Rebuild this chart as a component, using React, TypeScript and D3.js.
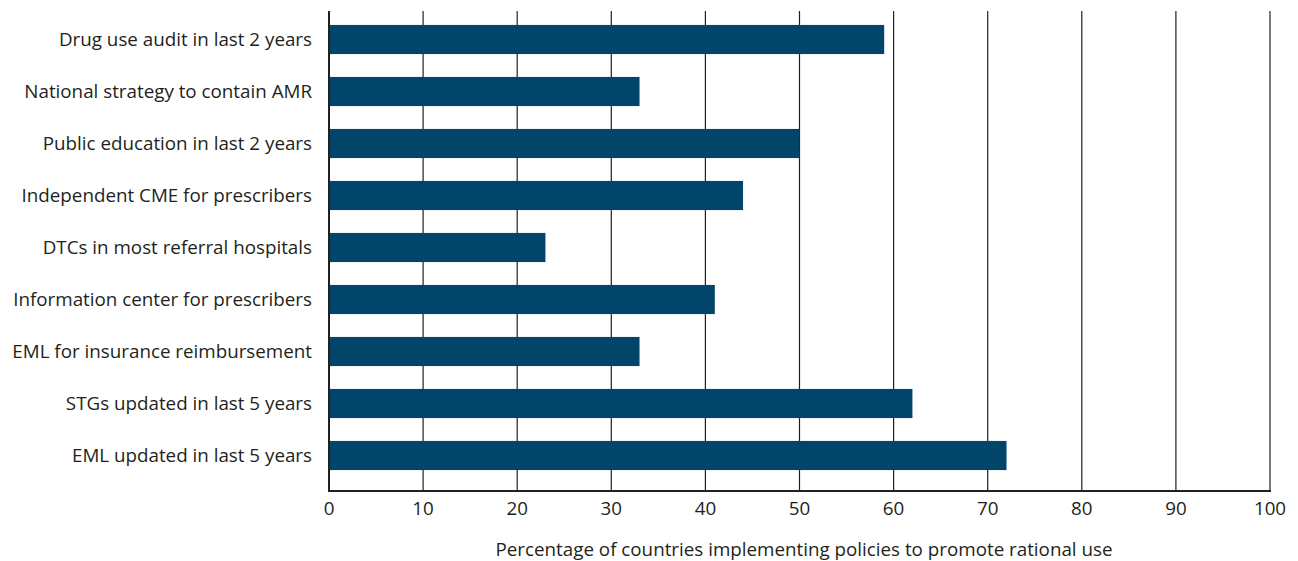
import React from "react";
import * as d3 from "d3";

const categories = [
  "Drug use audit in last 2 years",
  "National strategy to contain AMR",
  "Public education in last 2 years",
  "Independent CME for prescribers",
  "DTCs in most referral hospitals",
  "Information center for prescribers",
  "EML for insurance reimbursement",
  "STGs updated in last 5 years",
  "EML updated in last 5 years",
];
const values = [59, 33, 50, 44, 23, 41, 33, 62, 72];
const xTicks = [0, 10, 20, 30, 40, 50, 60, 70, 80, 90, 100];
const xTitle = "Percentage of countries implementing policies to promote rational use";

export default function App() {
  const W = 1298, H = 561;
  const left = 329, right = 1270, top = 11, bottom = 491;
  const x = d3.scaleLinear().domain([0, 100]).range([left, right]);
  const y = d3.scaleBand<string>().domain(categories).range([13.5, 481.5]).paddingInner(0.44).paddingOuter(0.22);
  const font = "'Open Sans', sans-serif";
  const fs = 18.8;
  return (
    <svg width={W} height={H} style={{ position: "absolute", left: 0, top: 0, background: "#fff" }}>
      {xTicks.slice(1).map((t) => (
        <line key={t} x1={x(t)} x2={x(t)} y1={top} y2={bottom} stroke="#231f20" strokeWidth={1.2} />
      ))}
      {categories.map((c, i) => (
        <rect key={c} x={x(0)} y={y(c)} width={x(values[i]) - x(0)} height={y.bandwidth()} fill="#02456a" />
      ))}
      <line x1={left} x2={left} y1={top} y2={bottom + 1} stroke="#231f20" strokeWidth={2} />
      <line x1={left - 1} x2={right + 1} y1={bottom} y2={bottom} stroke="#231f20" strokeWidth={2} />
      {categories.map((c) => (
        <text key={c} x={312} y={(y(c) as number) + y.bandwidth() / 2} dy="0.35em" textAnchor="end"
          fontFamily={font} fontSize={fs} fill="#231f20">{c}</text>
      ))}
      {xTicks.map((t) => (
        <text key={t} x={x(t)} y={508} dy="0.35em" textAnchor="middle" fontFamily={font} fontSize={fs} fill="#231f20">{t}</text>
      ))}
      <text x={804} y={549} dy="0.35em" textAnchor="middle" fontFamily={font} fontSize={fs} fill="#231f20">{xTitle}</text>
    </svg>
  );
}
